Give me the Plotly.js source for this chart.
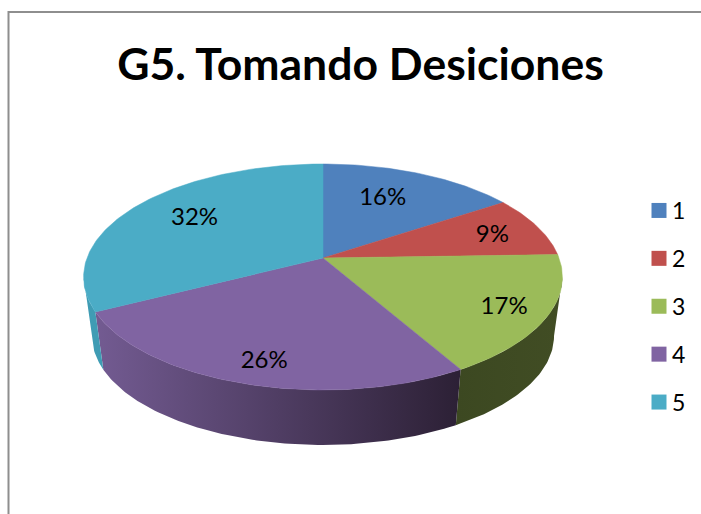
<!DOCTYPE html>
<html><head><meta charset="utf-8">
<script src="https://cdn.plot.ly/plotly-3.0.1.min.js"></script>
<style>html,body{margin:0;padding:0;background:#fff;overflow:hidden}</style>
</head><body><div id="chart" style="width:701px;height:514px"></div>
<script>
const categories = ['1','2','3','4','5'];
const values = [15.7,8.8,17.2,25.8,32.5];
const labels = ['16%','9%','17%','26%','32%'];
const topColors = ['#4f81bd','#c0504d','#9bbb59','#8064a2','#4bacc6'];
const sideStops = [['#3b618e','#2f4d71'],['#8e3a38','#7a3230'],['#3c4821','#414d24'],['#735b92','#2c2035'],['#3f9cb4','#3f9cb4']];
const labelRadius = [0.68,0.78,0.82,0.83,0.71];
const labelNudgeDeg = [-4,0.5,0,-1.5,3.5];

const W=701,H=514,FONT='Lato, Carlito, Calibri, sans-serif';
const cx=323,cy=258,cyLow=317.6,R=236,RY=109.8,K=0.168,LOW=0.965;
const total=values.reduce((a,b)=>a+b,0);
const thetaR=Math.acos(-K),thetaL=2*Math.PI-thetaR;
function proj(theta,r,yc,scale){
  const u=r*Math.sin(theta),v=r*Math.cos(theta),s=1/(1+K*v);
  return [cx+R*u*s*scale,yc-RY*v*s*scale];
}
function arc(a0,a1,yc,scale){
  const pts=[],n=Math.max(2,Math.ceil((a1-a0)*180/Math.PI));
  for(let i=0;i<=n;i++)pts.push(proj(a0+(a1-a0)*i/n,1,yc,scale));
  return pts;
}
let acc=0;
const slices=values.map(v=>{const a0=acc/total*2*Math.PI;acc+=v;return{a0,a1:acc/total*2*Math.PI};});
const sides=[],tops=[];
slices.forEach((sl,i)=>{
  const a0=Math.max(sl.a0,thetaR),a1=Math.min(sl.a1,thetaL);
  if(a1<=a0)return;
  const upper=arc(a0,a1,cy,1),lower=arc(a0,a1,cyLow,LOW).reverse();
  const pts=upper.concat(lower);pts.push(pts[0]);
  sides.push({type:'scatter',mode:'lines',x:pts.map(p=>p[0]),y:pts.map(p=>p[1]),fill:'toself',
    line:{width:0,color:sideStops[i][0]},
    fillgradient:{type:'horizontal',colorscale:[[0,sideStops[i][0]],[1,sideStops[i][1]]]},
    hoverinfo:'skip',showlegend:false});
});
values.forEach((v,i)=>{
  const {a0,a1}=slices[i];
  const pts=[[cx,cy]].concat(arc(a0,a1,cy,1));pts.push([cx,cy]);
  tops.push({type:'scatter',mode:'lines',x:pts.map(p=>p[0]),y:pts.map(p=>p[1]),fill:'toself',fillcolor:topColors[i],
    line:{width:0.5,color:topColors[i]},hoverinfo:'skip',showlegend:false});
});
const lp=values.map((v,i)=>proj((slices[i].a0+slices[i].a1)/2+labelNudgeDeg[i]*Math.PI/180,labelRadius[i],cy+2.5,1));
const textTrace={type:'scatter',mode:'text',x:lp.map(p=>p[0]),y:lp.map(p=>p[1]),text:labels,
  textposition:'middle center',textfont:{family:FONT,size:24,color:'#000'},hoverinfo:'skip',showlegend:false};
const legendTraces=categories.map((c,i)=>({type:'scatter',mode:'markers',x:[null],y:[null],name:c,legendgroup:c,
  marker:{symbol:'square',size:15,color:topColors[i]},hoverinfo:'skip'}));
const layout={width:W,height:H,margin:{l:0,r:0,t:0,b:0},paper_bgcolor:'#fff',plot_bgcolor:'#fff',
  xaxis:{range:[0,W],visible:false,fixedrange:true},
  yaxis:{range:[H,0],visible:false,fixedrange:true},
  title:{text:'<b>G5. Tomando Desiciones</b>',x:360.5/W,xanchor:'center',y:1-64/H,yanchor:'middle',font:{family:FONT,size:44.5,color:'#000'}},
  legend:{x:632/W,y:1-189/H,xanchor:'left',yanchor:'top',bgcolor:'rgba(0,0,0,0)',font:{family:FONT,size:23,color:'#000'},
    tracegroupgap:15,itemwidth:30,traceorder:'grouped'},
  shapes:[{type:'path',xref:'x',yref:'y',path:'M8.5,514 L8.5,12 L701,12',line:{color:'#8e8e8e',width:2}}]
};
Plotly.newPlot('chart',sides.concat(tops,[textTrace],legendTraces),layout,{displayModeBar:false,staticPlot:true}).then(()=>{
  document.querySelectorAll('.legend .legendpoints').forEach(g=>g.setAttribute('transform','translate(7,0)'));
});
</script></body></html>
